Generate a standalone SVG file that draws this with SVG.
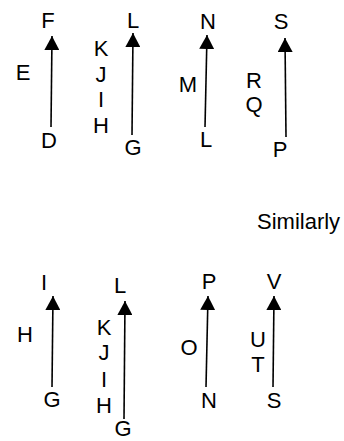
<svg xmlns="http://www.w3.org/2000/svg" width="344" height="441" viewBox="0 0 344 441">
<style>
text{font-family:"Liberation Sans",Arial,sans-serif;font-size:22px;fill:#000;text-anchor:middle}
.c line{stroke:#000;stroke-width:1.6;marker-end:url(#ah)}
</style>
<defs>
<marker id="ah" markerUnits="userSpaceOnUse" markerWidth="15" markerHeight="15" refX="14" refY="7.5" orient="auto">
<path d="M0,0 L14,7.5 L0,15 z" fill="#000"/>
</marker>
</defs>
<rect width="344" height="441" fill="#fff"/>
<g class="c" id="connectors">
<line x1="51" y1="127" x2="52" y2="36"/>
<line x1="132" y1="135" x2="133" y2="33"/>
<line x1="205" y1="127" x2="207" y2="35"/>
<line x1="286" y1="137" x2="285" y2="38"/>
<line x1="52" y1="387" x2="53" y2="296"/>
<line x1="124" y1="419" x2="125" y2="301"/>
<line x1="206" y1="387" x2="208" y2="296"/>
<line x1="273" y1="387" x2="274" y2="296"/>
</g>
<g id="top1"><text x="48" y="28">F</text><text x="23" y="80">E</text><text x="49" y="148">D</text></g>
<g id="top2"><text x="101" y="56">K</text><text x="101" y="82">J</text><text x="101" y="107">I</text><text x="101" y="133">H</text><text x="133" y="28">L</text><text x="133" y="155">G</text></g>
<g id="top3"><text x="208" y="29">N</text><text x="188" y="92">M</text><text x="206" y="147">L</text></g>
<g id="top4"><text x="254" y="88">R</text><text x="254" y="112">Q</text><text x="281" y="29">S</text><text x="280" y="157">P</text></g>
<g id="similarly"><text x="257" y="229" style="text-anchor:start">Similarly</text></g>
<g id="bot1"><text x="44" y="290">I</text><text x="25" y="342">H</text><text x="52" y="407">G</text></g>
<g id="bot2"><text x="120" y="293">L</text><text x="104" y="335">K</text><text x="104" y="360">J</text><text x="104" y="387">I</text><text x="104" y="413">H</text><text x="123" y="436">G</text></g>
<g id="bot3"><text x="209" y="289">P</text><text x="189" y="355">O</text><text x="209" y="408">N</text></g>
<g id="bot4"><text x="274" y="289">V</text><text x="258" y="347">U</text><text x="258" y="372">T</text><text x="274" y="408">S</text></g>
</svg>
